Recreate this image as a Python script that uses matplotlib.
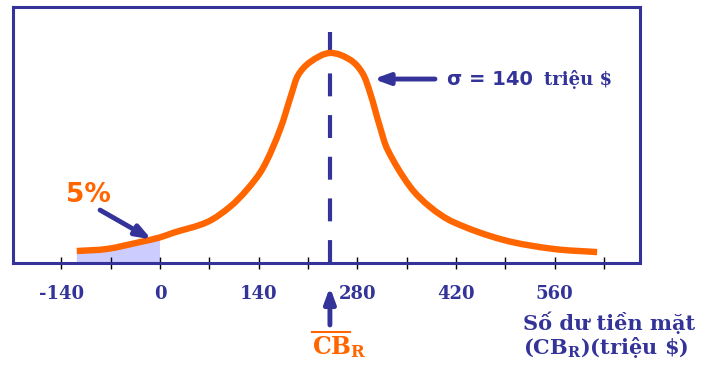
import matplotlib
matplotlib.use("Agg")
import matplotlib.pyplot as plt
from matplotlib.path import Path
from matplotlib.patches import PathPatch
import numpy as np

plt.rcParams["mathtext.fontset"] = "dejavuserif"

NAVY = "#333399"
ORANGE = "#FF6600"
LAVENDER = "#CCCCFF"

# Cash balance (million $) and relative probability density
cash = [-118, -75, -28, 0, 18, 67, 99, 123, 146, 170, 187, 196, 213, 241,
        270, 287, 298, 312, 323, 355, 383, 416, 487, 558, 620]
density = [0.057, 0.067, 0.100, 0.122, 0.143, 0.195, 0.267, 0.348, 0.452,
           0.633, 0.810, 0.895, 0.957, 1.0, 0.967, 0.905, 0.810, 0.648,
           0.538, 0.362, 0.267, 0.195, 0.110, 0.067, 0.052]

mean_cb = 241
major_ticks = [-140, 0, 140, 280, 420, 560]
minor_ticks = [-70, 70, 210, 350, 490, 630]
tick_labels = ["-140", "0", "140", "280", "420", "560"]


def smooth_path(xs, ys, ax):
    """Cubic Bezier path through the points. Each control handle follows
    the neighbour-to-neighbour direction and is a third of the segment
    long, computed in display space."""
    pts = ax.transData.transform(np.column_stack([xs, ys]))
    n = len(pts)
    dirs = []
    for i in range(n):
        a = pts[max(i - 1, 0)]
        b = pts[min(i + 1, n - 1)]
        d = b - a
        dirs.append(d / np.linalg.norm(d))
    verts = [pts[0]]
    codes = [Path.MOVETO]
    for i in range(n - 1):
        p1, p2 = pts[i], pts[i + 1]
        seg = np.linalg.norm(p2 - p1) / 3.0
        verts += [p1 + dirs[i] * seg, p2 - dirs[i + 1] * seg, p2]
        codes += [Path.CURVE4] * 3
    return Path(ax.transData.inverted().transform(np.array(verts)), codes)


fig = plt.figure(figsize=(7.05, 3.66), dpi=100)
ax = fig.add_axes([13 / 705, 1 - 263 / 366, 627 / 705, 256 / 366])
ax.set_xlim(-208.5, 680.8)
ax.set_ylim(0, 1.219)

x = np.array(cash, dtype=float)
y = np.array(density, dtype=float)

# Shaded lower tail (5%)
tail = x <= 0
tail_path = smooth_path(x[tail], y[tail], ax)
tv = list(tail_path.vertices) + [(x[tail][-1], 0), (x[tail][0], 0),
                                 (x[tail][0], y[tail][0])]
tc = list(tail_path.codes) + [Path.LINETO, Path.LINETO, Path.CLOSEPOLY]
ax.add_patch(PathPatch(Path(tv, tc), facecolor=LAVENDER, lw=0, zorder=1))

# Distribution curve
ax.add_patch(PathPatch(smooth_path(x, y, ax), facecolor="none",
                       edgecolor=ORANGE, lw=4.6, capstyle="butt",
                       joinstyle="round", zorder=3))

# Mean line
ax.plot([mean_cb, mean_cb], [0, 1.1], color=NAVY, lw=3,
        dashes=(5.5, 4.5), zorder=2)

for s in ax.spines.values():
    s.set_color(NAVY)
    s.set_linewidth(2.2)

ax.set_yticks([])
ax.set_xticks(major_ticks)
ax.set_xticks(minor_ticks, minor=True)
ax.set_xticklabels(tick_labels)
ax.tick_params(axis="x", which="both", direction="inout", length=8,
               width=1, color="black", pad=12)
for lab in ax.get_xticklabels():
    lab.set_fontfamily("DejaVu Serif")
    lab.set_fontweight("bold")
    lab.set_fontsize(13)
    lab.set_color(NAVY)

arrow_style = dict(arrowstyle="-|>,head_length=0.9,head_width=0.33",
                   color=NAVY, lw=3.5, shrinkA=0, shrinkB=0)

# sigma annotation
ax.annotate("", xy=(303, 0.876), xytext=(390, 0.876), arrowprops=arrow_style)
ax.text(407, 0.876, "σ = 140", family="DejaVu Sans", fontweight="bold",
        fontsize=14, color=NAVY, va="center", ha="left")
ax.text(545, 0.872, "triệu $", family="DejaVu Serif", fontweight="bold",
        fontsize=13, color=NAVY, va="center", ha="left")

# 5% annotation
ax.text(-134, 0.326, "5%", family="DejaVu Sans", fontweight="bold",
        fontsize=19, color=ORANGE, va="center", ha="left")
ax.annotate("", xy=(-12, 0.112), xytext=(-85, 0.252), arrowprops=arrow_style)

# Arrow pointing at the mean on the axis, with its label
trans = ax.get_xaxis_transform()
ax.annotate("", xy=(mean_cb, -0.094), xytext=(mean_cb, -0.242),
            xycoords=trans, textcoords=trans, arrowprops=arrow_style,
            annotation_clip=False)
ax.plot([215.6, 269.5], [-0.268, -0.268], transform=trans, color=ORANGE,
        lw=1.5, clip_on=False)
ax.text(215.6, -0.328, r"CB$_{\mathbf{R}}$", transform=trans,
        family="DejaVu Serif", fontweight="bold", fontsize=17, color=ORANGE,
        ha="left", va="center")

fig.text(523 / 705, 1 - 323 / 366, "Số dư tiền mặt", family="DejaVu Serif",
         fontweight="bold", fontsize=15, color=NAVY, ha="left", va="center")
fig.text(523 / 705, 1 - 348 / 366, r"(CB$_{\mathbf{R}}$)(triệu \$)",
         family="DejaVu Serif", fontweight="bold", fontsize=15, color=NAVY,
         ha="left", va="center")

fig.savefig("out.png", dpi=100)
